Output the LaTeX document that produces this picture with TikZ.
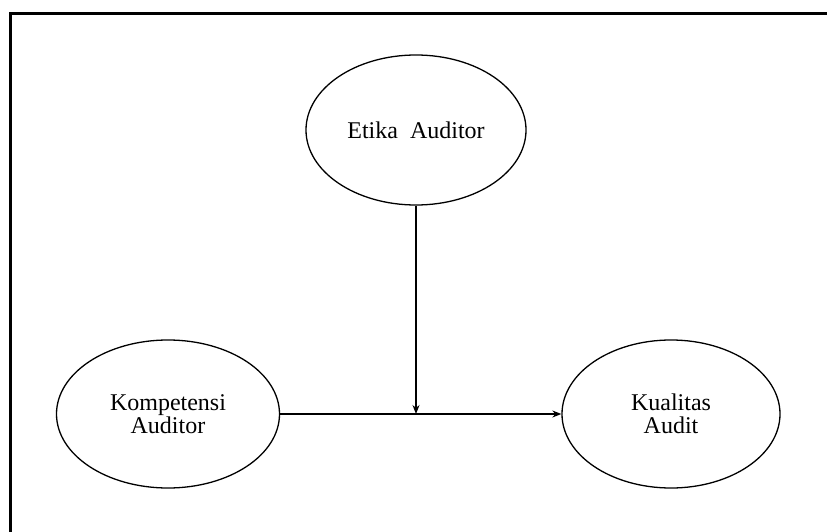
\documentclass[tikz,border=0pt]{standalone}
\usepackage{fontspec}
\setmainfont{Liberation Serif}
\usetikzlibrary{arrows.meta,shapes.geometric}
\begin{document}
\begin{tikzpicture}[x=1pt,y=-1pt,
  oval/.style={draw, ellipse, line width=1.3pt, inner sep=0pt, align=center,
    font=\fontsize{24}{22.5}\selectfont},
  conn/.style={line width=1.4pt, -{Stealth[length=9pt,width=7pt]}}]
\useasboundingbox (0,0) rectangle (827,532);
\begin{scope}
\clip (0,0) rectangle (827,532);
\draw[line width=3pt] (10,13.5) rectangle (840,545);
\end{scope}
\node[oval, minimum width=220pt, minimum height=150pt] (e) at (416,130) {Etika\ \ Auditor};
\node[oval, minimum width=223pt, minimum height=148pt] (k) at (168,414) {Kompetensi\\Auditor};
\node[oval, minimum width=218pt, minimum height=148pt] (q) at (671,414) {Kualitas\\Audit};
\coordinate (m) at (e.south |- k.east);
\draw[conn] (k.east) -- (q.west);
\draw[conn] (e.south) -- (m);
\end{tikzpicture}
\end{document}
